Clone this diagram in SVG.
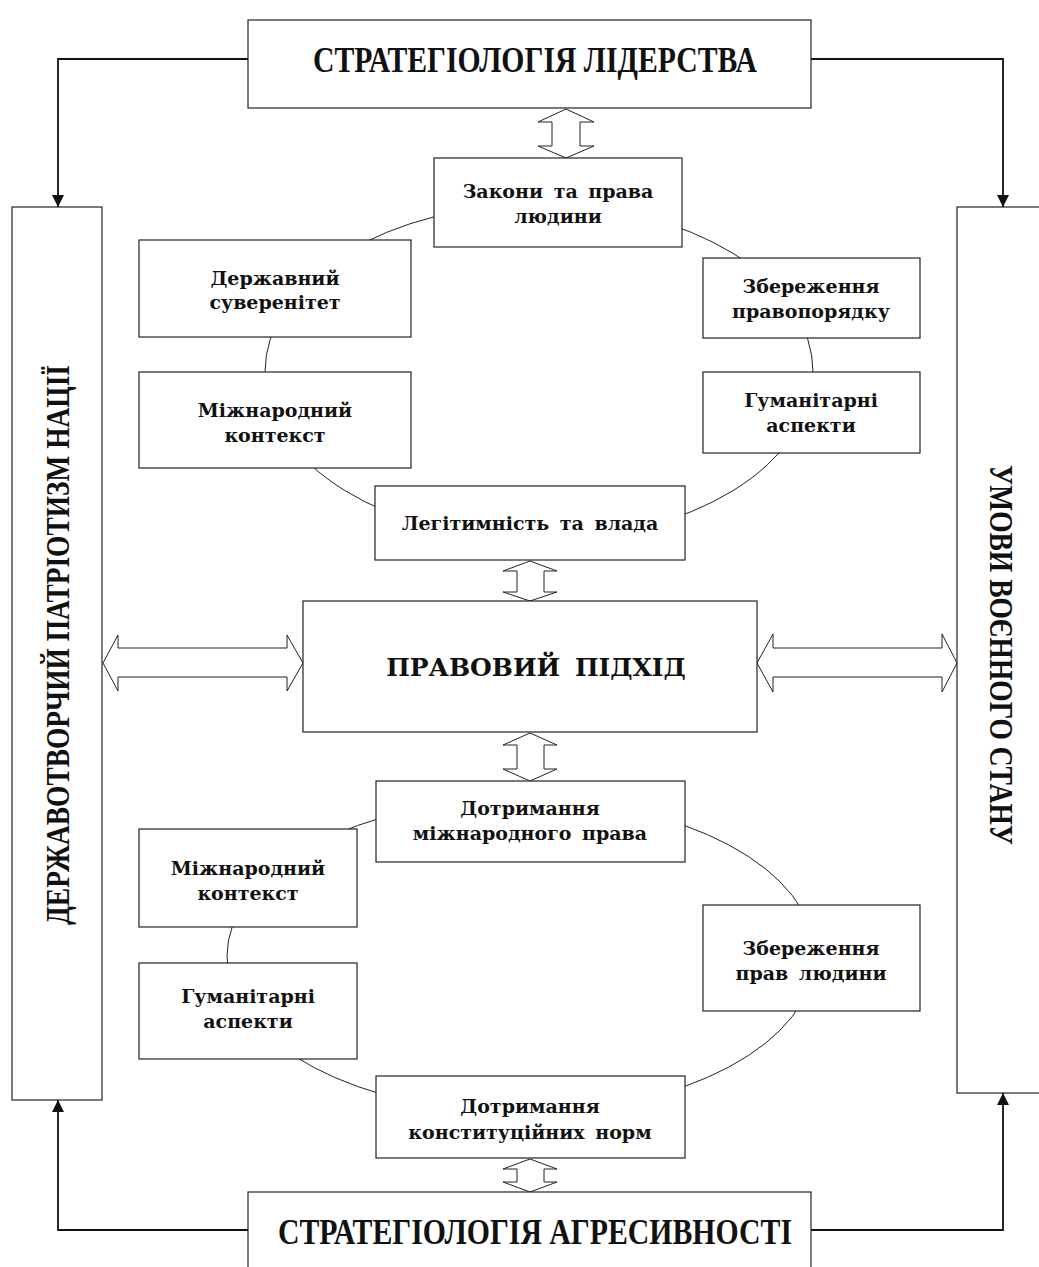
<svg xmlns="http://www.w3.org/2000/svg" width="1039" height="1267" viewBox="0 0 1039 1267">
<defs>
<style>
.box{fill:#fff;stroke:#222;stroke-width:1.2}
.ell{fill:none;stroke:#222;stroke-width:1}
.dbl{fill:#fff;stroke:#222;stroke-width:1}
.con{fill:none;stroke:#111;stroke-width:1.8}
.t{font-family:"DejaVu Serif",serif;font-weight:bold;font-size:19px;fill:#111;text-anchor:middle;word-spacing:4px}
.big{font-family:"Liberation Serif","Times New Roman",serif;font-weight:bold;font-size:35px;fill:#111;text-anchor:middle}
.side{font-family:"Liberation Serif","Times New Roman",serif;font-weight:bold;font-size:34px;fill:#111;text-anchor:middle}
.mid{font-family:"DejaVu Serif",serif;font-weight:bold;font-size:25px;fill:#111;text-anchor:middle;word-spacing:6px}
</style>
<marker id="ah" viewBox="0 0 12 12" refX="12" refY="6" markerWidth="12" markerHeight="12" markerUnits="userSpaceOnUse" orient="auto">
<path d="M0,0 L12,6 L0,12 Z" fill="#111"/>
</marker>
</defs>
<rect width="1039" height="1267" fill="#fff"/>

<g id="ellipses">
<ellipse class="ell" cx="539" cy="372" rx="274" ry="168"/>
<ellipse class="ell" cx="521" cy="956" rx="294" ry="157"/>
</g>

<g id="connectors">
<path class="con" d="M248,59 H58 V207" marker-end="url(#ah)"/>
<path class="con" d="M811,59 H1003 V207" marker-end="url(#ah)"/>
<path class="con" d="M248,1230 H58 V1100" marker-end="url(#ah)"/>
<path class="con" d="M811,1230 H1003 V1093" marker-end="url(#ah)"/>
<polygon class="dbl" points="566,109 594,122 580,122 580,146 594,146 566,158 538,146 552,146 552,122 538,122"/>
<polygon class="dbl" points="530,561 557,571 544,571 544,592 557,592 530,601 503,592 517,592 517,571 503,571"/>
<polygon class="dbl" points="530,733 557,745 544,745 544,769 557,769 530,781 503,769 517,769 517,745 503,745"/>
<polygon class="dbl" points="530,1159 557,1169 544,1169 544,1182 557,1182 530,1192 503,1182 517,1182 517,1169 503,1169"/>
<polygon class="dbl" points="103,663 118,635 118,648 287,648 287,635 303,663 287,691 287,677 118,677 118,691"/>
<polygon class="dbl" points="757,663 773,634 773,648 942,648 942,634 957,663 942,692 942,677 773,677 773,692"/>
</g>

<g id="n-leadership">
<rect class="box" x="248" y="20" width="563" height="88"/>
<text class="big" x="535" y="72" textLength="444" lengthAdjust="spacingAndGlyphs">СТРАТЕГІОЛОГІЯ ЛІДЕРСТВА</text>
</g>

<g id="n-aggression">
<rect class="box" x="248" y="1192" width="563" height="110"/>
<text class="big" x="535" y="1244" textLength="514" lengthAdjust="spacingAndGlyphs">СТРАТЕГІОЛОГІЯ АГРЕСИВНОСТІ</text>
</g>

<g id="n-patriotism">
<rect class="box" x="12" y="207" width="90" height="893"/>
<text class="side" transform="translate(69,645) rotate(-90)" x="0" y="0" textLength="560" lengthAdjust="spacingAndGlyphs">ДЕРЖАВОТВОРЧИЙ ПАТРІОТИЗМ НАЦІЇ</text>
</g>

<g id="n-martial">
<rect class="box" x="957" y="207" width="100" height="886"/>
<text class="side" transform="translate(990,655) rotate(90)" x="0" y="0" textLength="380" lengthAdjust="spacingAndGlyphs">УМОВИ ВОЄННОГО СТАНУ</text>
</g>

<g id="n-legal">
<rect class="box" x="303" y="601" width="454" height="131"/>
<text class="mid" x="536" y="676">ПРАВОВИЙ ПІДХІД</text>
</g>

<g id="n-laws">
<rect class="box" x="434" y="158" width="248" height="89"/>
<text class="t" x="558" y="198">Закони та права</text>
<text class="t" x="558" y="223">людини</text>
</g>

<g id="n-sovereignty">
<rect class="box" x="139" y="240" width="272" height="97"/>
<text class="t" x="275" y="285">Державний</text>
<text class="t" x="275" y="309">суверенітет</text>
</g>

<g id="n-order">
<rect class="box" x="703" y="258" width="217" height="80"/>
<text class="t" x="811" y="293">Збереження</text>
<text class="t" x="811" y="318">правопорядку</text>
</g>

<g id="n-intl-top">
<rect class="box" x="139" y="372" width="272" height="96"/>
<text class="t" x="275" y="417">Міжнародний</text>
<text class="t" x="275" y="442">контекст</text>
</g>

<g id="n-human-top">
<rect class="box" x="703" y="372" width="217" height="81"/>
<text class="t" x="811" y="407">Гуманітарні</text>
<text class="t" x="811" y="432">аспекти</text>
</g>

<g id="n-legitimacy">
<rect class="box" x="375" y="486" width="310" height="74"/>
<text class="t" x="530" y="530">Легітимність та влада</text>
</g>

<g id="n-intl-law">
<rect class="box" x="376" y="781" width="309" height="81"/>
<text class="t" x="530" y="815">Дотримання</text>
<text class="t" x="530" y="840">міжнародного права</text>
</g>

<g id="n-intl-bottom">
<rect class="box" x="139" y="829" width="218" height="98"/>
<text class="t" x="248" y="875">Міжнародний</text>
<text class="t" x="248" y="900">контекст</text>
</g>

<g id="n-rights">
<rect class="box" x="703" y="905" width="217" height="106"/>
<text class="t" x="811" y="955">Збереження</text>
<text class="t" x="811" y="980">прав людини</text>
</g>

<g id="n-human-bottom">
<rect class="box" x="139" y="963" width="218" height="96"/>
<text class="t" x="248" y="1003">Гуманітарні</text>
<text class="t" x="248" y="1028">аспекти</text>
</g>

<g id="n-constitution">
<rect class="box" x="376" y="1076" width="309" height="82"/>
<text class="t" x="530" y="1113">Дотримання</text>
<text class="t" x="530" y="1139">конституційних норм</text>
</g>
</svg>
